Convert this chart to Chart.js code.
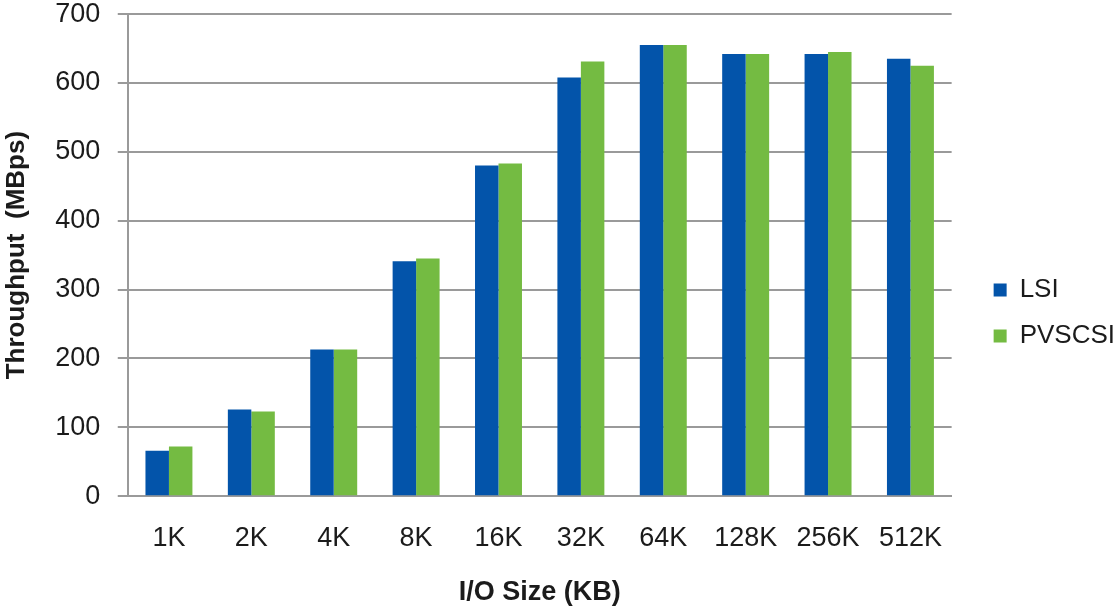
<!DOCTYPE html>
<html>
<head>
<meta charset="utf-8">
<script src="https://cdn.jsdelivr.net/npm/chart.js@4/dist/chart.umd.min.js"></script>
<style>
  html, body { margin: 0; padding: 0; background: #ffffff; }
  #wrap { width: 1120px; height: 606px; position: relative; }
</style>
</head>
<body>
<div id="wrap"><canvas id="chart"></canvas></div>
<script>
// I/O sizes tested
const ioSizes = ['1K', '2K', '4K', '8K', '16K', '32K', '64K', '128K', '256K', '512K'];
// Throughput in MBps per controller
const lsiThroughput = [66, 126, 213, 341, 480, 608, 655, 642, 642, 635];
const pvscsiThroughput = [72, 123, 213, 345, 483, 631, 655, 642, 645, 625];
// Y axis range and step
const yMin = 0;
const yMax = 700;
const yStep = 100;

const FONT = "'Liberation Sans', Arial, Helvetica, sans-serif";
const TEXT = '#1b1b1b';
const GRID = '#9a9a9a';

// Room kept between the plot and the legend, and how far the legend is nudged
const LEGEND_GAP = 17;
const LEGEND_SHIFT_X = 22;
const LEGEND_SHIFT_Y = 10;
const legendPlacement = {
  id: 'legendPlacement',
  afterLayout(chart) {
    const lg = chart.legend;
    if (!lg) return;
    lg.left += LEGEND_SHIFT_X;
    lg.right += LEGEND_SHIFT_X;
    lg.top += LEGEND_SHIFT_Y;
    lg.bottom += LEGEND_SHIFT_Y;
  }
};

new Chart(document.getElementById('chart'), {
  type: 'bar',
  data: {
    labels: ioSizes,
    datasets: [
      { label: 'LSI', data: lsiThroughput, backgroundColor: '#0354aa', borderWidth: 0 },
      { label: 'PVSCSI', data: pvscsiThroughput, backgroundColor: '#74bb42', borderWidth: 0 }
    ]
  },
  options: {
    responsive: true,
    maintainAspectRatio: false,
    animation: false,
    layout: { padding: { left: 0, right: LEGEND_GAP, top: 0, bottom: 0 } },
    datasets: { bar: { categoryPercentage: 0.57, barPercentage: 1.0 } },
    plugins: {
      tooltip: { enabled: false },
      legend: {
        position: 'right',
        labels: {
          color: TEXT,
          font: { family: FONT, size: 26 },
          boxWidth: 13,
          boxHeight: 13,
          padding: 20
        }
      }
    },
    scales: {
      x: {
        grid: { display: false, drawTicks: false },
        border: { display: true, color: GRID, width: 2 },
        ticks: {
          color: TEXT,
          font: { family: FONT, size: 27 },
          padding: 26,
          maxRotation: 0,
          autoSkip: false
        },
        title: {
          display: true,
          text: 'I/O Size (KB)',
          color: TEXT,
          font: { family: FONT, size: 27, weight: 'bold' },
          padding: { top: -4, bottom: -3 }
        }
      },
      y: {
        min: yMin,
        max: yMax,
        grid: { color: GRID, lineWidth: 2, tickLength: 10, tickColor: GRID },
        border: { display: true, color: GRID, width: 2 },
        ticks: {
          stepSize: yStep,
          color: TEXT,
          font: { family: FONT, size: 27, lineHeight: 0.3 },
          padding: 10,
          callback: (value) => value + ' '
        },
        title: {
          display: true,
          text: 'Throughput  (MBps)',
          color: TEXT,
          font: { family: FONT, size: 26, weight: 'bold' },
          padding: { top: 1, bottom: 13 }
        }
      }
    }
  },
  plugins: [legendPlacement]
});
</script>
</body>
</html>
